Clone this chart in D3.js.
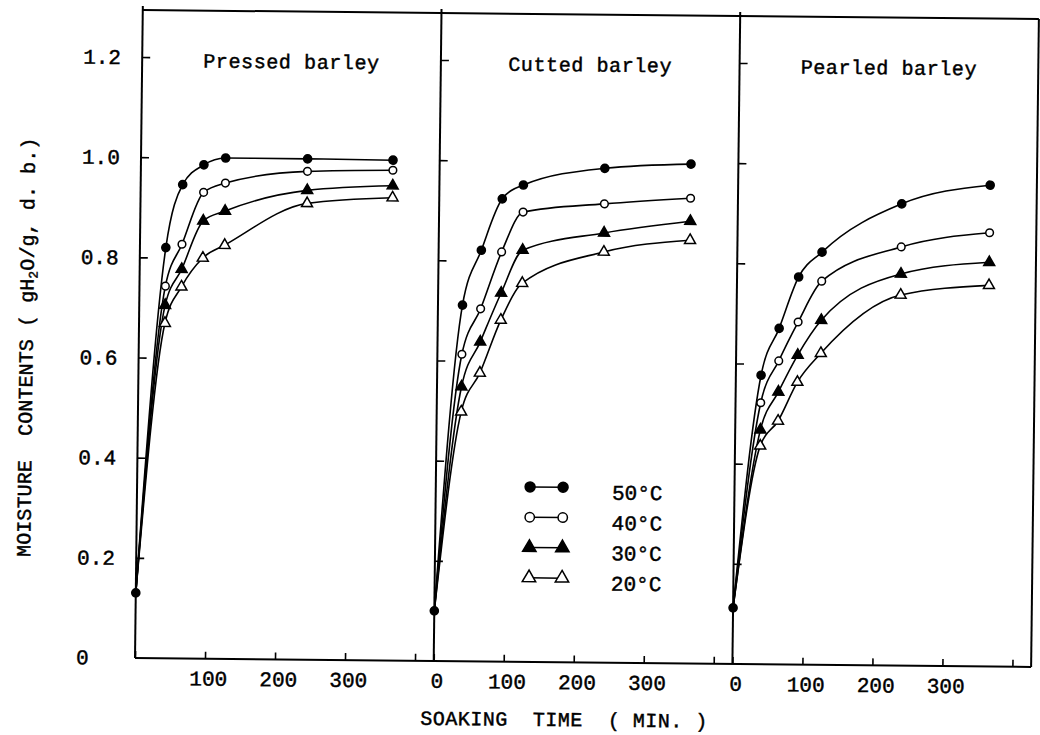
<!DOCTYPE html>
<html><head><meta charset="utf-8">
<script src="https://cdn.jsdelivr.net/npm/d3@7"></script>
<style>body{margin:0;background:#fff}svg{display:block}</style>
</head><body>
<svg id="chart" width="1040" height="735"></svg>
<script>
// ---------- data ----------
const panelTitles = ["Pressed barley", "Cutted barley", "Pearled barley"];
const seriesNames = ["20°C", "30°C", "40°C", "50°C"];
const legendOrder = ["50°C", "40°C", "30°C", "20°C"];

const timesPressed = [0, 37, 60, 90, 121, 238, 360];
const timesCutted  = [0, 35, 61, 90, 120, 236, 359];
const timesPearled = [0, 36, 61, 88, 121, 234, 360];

const pressed50 = [0.13, 0.820, 0.946, 0.986, 1.000, 1.000, 0.999];
const pressed40 = [0.13, 0.743, 0.827, 0.931, 0.950, 0.975, 0.979];
const pressed30 = [0.13, 0.705, 0.777, 0.874, 0.894, 0.937, 0.948];
const pressed20 = [0.13, 0.669, 0.742, 0.800, 0.826, 0.911, 0.924];

const cutted50 = [0.100, 0.711, 0.821, 0.924, 0.952, 0.987, 0.997];
const cutted40 = [0.100, 0.613, 0.704, 0.818, 0.898, 0.916, 0.929];
const cutted30 = [0.100, 0.548, 0.638, 0.736, 0.822, 0.858, 0.883];
const cutted20 = [0.100, 0.498, 0.576, 0.682, 0.756, 0.820, 0.845];

const pearled50 = [0.112, 0.577, 0.671, 0.774, 0.824, 0.922, 0.961];
const pearled40 = [0.112, 0.522, 0.606, 0.684, 0.766, 0.836, 0.866];
const pearled30 = [0.112, 0.468, 0.544, 0.618, 0.688, 0.782, 0.807];
const pearled20 = [0.112, 0.436, 0.486, 0.564, 0.622, 0.740, 0.761];

const yTickValues = [0, 0.2, 0.4, 0.6, 0.8, 1.0, 1.2];
const yTickLabels = ["0", "0.2", "0.4", "0.6", "0.8", "1.0", "1.2"];
const xTickValues = [0, 100, 200, 300, 400];
const xTickLabelsFirst = ["", "100", "200", "300", ""];
const xTickLabelsOther = ["0", "100", "200", "300", ""];

const yTitleParts = ["MOISTURE  CONTENTS ( gH", "2", "O/g, d. b.)"];
const xTitle = "SOAKING  TIME  ( MIN. )";

// ---------- layout ----------
const panelTables = [
  {title: panelTitles[0], times: timesPressed, series: {"50°C": pressed50, "40°C": pressed40, "30°C": pressed30, "20°C": pressed20}},
  {title: panelTitles[1], times: timesCutted,  series: {"50°C": cutted50,  "40°C": cutted40,  "30°C": cutted30,  "20°C": cutted20}},
  {title: panelTitles[2], times: timesPearled, series: {"50°C": pearled50, "40°C": pearled40, "30°C": pearled30, "20°C": pearled20}}
];

const left0 = 135, panelW = 298.7, topY = 10, bottomY = 658;
const mono = "'Courier New','Liberation Mono',monospace";
const ink = sel => sel.attr("fill", "#000").attr("stroke", "#000").attr("stroke-width", 0.45);
const svg = d3.select("#chart");
svg.append("rect").attr("width", 1040).attr("height", 735).attr("fill", "#fff");
// slight scan tilt of the original
const root = svg.append("g").attr("transform", "matrix(1,0.01,-0.012,1,7.9,-1.35)");

const y = d3.scaleLinear().domain([0, 1.2]).range([bottomY, 57]);

const markerStyle = {
  "50°C": {type: d3.symbolCircle, size: 52, fill: "#000"},
  "40°C": {type: d3.symbolCircle, size: 46, fill: "#fff"},
  "30°C": {type: d3.symbolTriangle, size: 52, fill: "#000"},
  "20°C": {type: d3.symbolTriangle, size: 52, fill: "#fff"}
};

panelTables.forEach((p, i) => {
  const x0 = left0 + i * panelW;
  const x = d3.scaleLinear().domain([0, panelW / 0.7]).range([x0, x0 + panelW]);
  const g = root.append("g");

  // y axis ticks (inward)
  const yAxis = d3.axisLeft(y).tickValues(yTickValues.slice(1)).tickSize(-8)
    .tickFormat(i === 0 ? (d => yTickLabels[yTickValues.indexOf(d)]) : "");
  const ya = g.append("g").attr("transform", `translate(${x0},0)`).call(yAxis);
  ya.select(".domain").remove();
  ya.selectAll("line").attr("stroke", "#000").attr("stroke-width", 1.6);
  if (i === 0) {
    ya.append("g").attr("class", "tick").attr("transform", `translate(0,${y(0)})`)
      .append("text").attr("dy", "0.32em").text(yTickLabels[0]);
    ya.selectAll("text").attr("text-anchor", "start").attr("x", 76 - x0)
      .attr("font-family", mono).attr("font-size", 21).call(ink);
  } else {
    ya.selectAll("text").remove();
  }

  // x axis ticks (inward)
  const labels = i === 0 ? xTickLabelsFirst : xTickLabelsOther;
  const xAxis = d3.axisBottom(x).tickValues(xTickValues).tickSize(-7).tickPadding(12)
    .tickFormat(d => labels[xTickValues.indexOf(d)]);
  const xa = g.append("g").attr("transform", `translate(0,${bottomY})`).call(xAxis);
  xa.select(".domain").remove();
  xa.selectAll("line").attr("stroke", "#000").attr("stroke-width", 1.6);
  xa.selectAll("text").attr("font-family", mono).attr("font-size", 21).attr("dx", 3).call(ink);

  // frame: left edge
  g.append("line").attr("x1", x0).attr("x2", x0).attr("y1", topY - 4).attr("y2", bottomY)
    .attr("stroke", "#000").attr("stroke-width", 2);

  // title
  g.append("text").attr("x", x0 + panelW / 2).attr("y", 67).attr("text-anchor", "middle")
    .attr("font-family", mono).attr("font-size", 20).attr("letter-spacing", 0.6)
    .call(ink).text(p.title);

  // lines + markers
  const line = d3.line().x((d, k) => x(p.times[k])).y(d => y(d)).curve(d3.curveMonotoneX);
  seriesNames.forEach(name => {
    g.append("path").attr("d", line(p.series[name])).attr("fill", "none")
      .attr("stroke", "#000").attr("stroke-width", 1.6);
  });
  seriesNames.forEach(name => {
    const st = markerStyle[name];
    // shared starting point (t = 0) is drawn once, as a filled dot
    const pts = p.series[name].map((v, k) => ({t: p.times[k], v, k}))
      .filter(d => d.k > 0 || name === "50°C");
    g.selectAll(null).data(pts).join("path")
      .attr("transform", d => `translate(${x(d.t)},${y(d.v)})`)
      .attr("d", d3.symbol().type(st.type).size(st.size))
      .attr("fill", st.fill).attr("stroke", "#000").attr("stroke-width", 1.5);
  });
});

// outer frame: top, bottom, right
const rightX = left0 + 3 * panelW;
root.append("line").attr("x1", left0).attr("x2", rightX).attr("y1", topY).attr("y2", topY)
  .attr("stroke", "#000").attr("stroke-width", 2);
root.append("line").attr("x1", left0).attr("x2", rightX).attr("y1", bottomY).attr("y2", bottomY)
  .attr("stroke", "#000").attr("stroke-width", 2);
root.append("line").attr("x1", rightX).attr("x2", rightX).attr("y1", topY).attr("y2", bottomY)
  .attr("stroke", "#000").attr("stroke-width", 2);

// legend (inside middle panel)
const legX1 = 528, legX2 = 561, legY0 = 483, legDy = 30.3;
legendOrder.forEach((name, j) => {
  const ly = legY0 + j * legDy;
  const st = markerStyle[name];
  root.append("line").attr("x1", legX1).attr("x2", legX2).attr("y1", ly).attr("y2", ly)
    .attr("stroke", "#000").attr("stroke-width", 1.5);
  [legX1, legX2].forEach(lx => {
    root.append("path").attr("transform", `translate(${lx},${ly})`)
      .attr("d", d3.symbol().type(st.type).size(st.size * 1.5))
      .attr("fill", st.fill).attr("stroke", "#000").attr("stroke-width", 1.5);
  });
  root.append("text").attr("x", 610).attr("y", ly + 12)
    .attr("font-family", mono).attr("font-size", 21).call(ink).text(name);
});

// axis titles
const yt = root.append("text").attr("transform", "translate(29,558) rotate(-90)")
  .attr("font-family", mono).attr("font-size", 20).attr("letter-spacing", 0.1)
  .style("white-space", "pre").call(ink);
yt.append("tspan").text(yTitleParts[0]);
yt.append("tspan").attr("font-size", 13).attr("dy", 4).text(yTitleParts[1]);
yt.append("tspan").attr("dy", -4).text(yTitleParts[2]);

root.append("text").attr("x", 421).attr("y", 722)
  .attr("font-family", mono).attr("font-size", 20).attr("letter-spacing", 0.5)
  .style("white-space", "pre").call(ink).text(xTitle);
</script>
</body></html>
